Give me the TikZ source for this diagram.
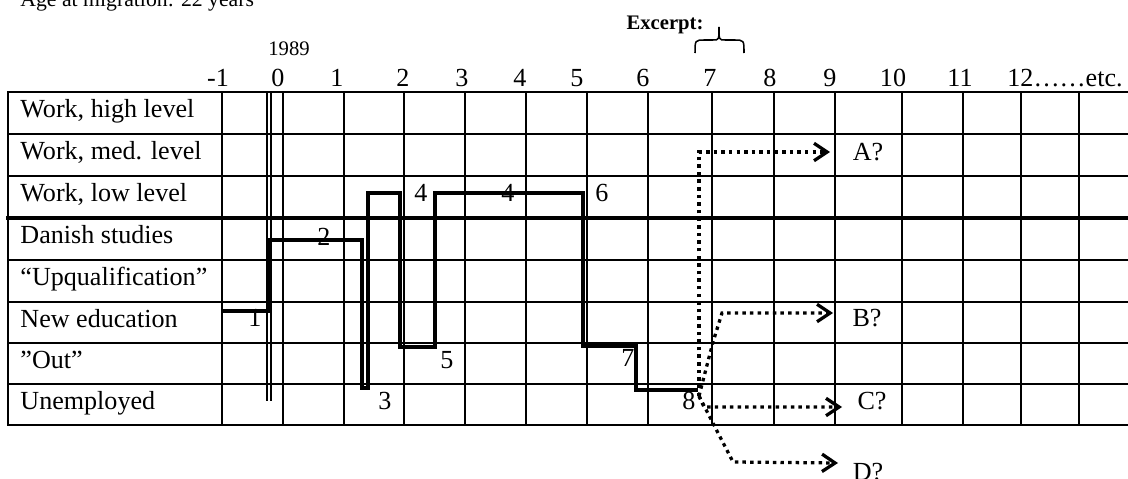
\documentclass[tikz,border=0pt]{standalone}
\usepackage{fontspec}
\setmainfont{Liberation Serif}
\usetikzlibrary{arrows.meta}

\begin{document}
\begin{tikzpicture}[x=0.46pt, y=-0.46pt,
    gridline/.style={line width=0.9pt, line cap=rect},
    divider/.style={line width=1.8pt, line cap=rect},
    route/.style={line width=1.4pt, line join=miter},
    maybe/.style={line width=1.5pt, dash pattern=on 1.6pt off 1.9pt,
        -{Straight Barb[length=6pt, width=8pt]}},
    txt/.style={inner sep=0pt, font=\fontsize{12}{14}\selectfont},
    small/.style={inner sep=0pt, font=\fontsize{9.5}{11}\selectfont}]
\useasboundingbox (0,0) rectangle (1128,479);

% title and marks above the table
\node[inner sep=0pt, font=\fontsize{10}{12}\selectfont, anchor=base west] (age) at (20,6) {Age at migration: 22 years};
\node[small, anchor=base] (year) at (289,55) {1989};
\node[small, anchor=base, font=\fontsize{9.5}{11}\selectfont\bfseries] (excerpt) at (665,29) {Excerpt:};
\draw[line width=0.7pt] 
    (695,53) .. controls (695,40) .. (705,40) -- (713,40) 
    .. controls (719,40) .. (719,27)  % tip over 7
    .. controls (719,40) .. (725,40) -- (734,40) 
    .. controls (744,40) .. (744,53);

% table
\foreach \y in {92,134,176,260,302,343,384,425}
    \draw[gridline] (8,\y) -- (1128,\y);
\draw[divider] (8,218) -- (1128,218);  % work / no work
\foreach \x in {8,222,283,344,404,465,526,587,648,712,774,835,902,963,1021,1079}
    \draw[gridline] (\x,92) -- (\x,425);
\draw[gridline, line width=1.1pt] (267,92) -- (267,400);  % 1989
\draw[gridline, line width=1.1pt] (271,92) -- (271,400);

% years
\foreach \x/\n [count=\i] in {218/-1,278/0,337/1,403/2,462/3,520/4,577/5,643/6,710/7,770/8,830/9,893/10,960/11}
    \node[txt, anchor=base] (yr\i) at (\x,86) {\n};
\node[txt, anchor=base west] (etc) at (1007,86) {12……etc.};

% rows
\foreach \y/\t [count=\i] in {92/{Work, high level},134/{Work, med. level},176/{Work, low level},218/{Danish studies},260/{“Upqualification”},302/{New education},343/{”Out”},384/{Unemployed}}
    \node[txt, anchor=base west] (row\i) at (20,{\y+25}) {\t};

% the course
\draw[route] 
    (222,311) -- (269,311) --  % 1
    (269,240) -- (362,240) --  % 2
    (362,388) -- (368,388) --  % 3
    (368,193) -- (400,193) --  % 4
    (400,347) -- (435,347) --  % 5
    (435,193) -- (583,193) --  % 4, 6
    (583,346) -- (636,346) --  % 7
    (636,390) -- (698,390);    % 8
\foreach \x/\y/\n [count=\i] in {255/318/1,324/237/2,385/401/3,421/193/4,508/193/4,447/360/5,602/193/6,628/358/7,689/401/8}
    \node[txt] (step\i) at (\x,\y) {\n};

% possible ways on
\coordinate (fork) at (699,396);
\coordinate (endA) at (830,152);
\coordinate (endB) at (833,313);
\coordinate (endC) at (842,407);
\coordinate (endD) at (838,463);
\draw[maybe] (fork) -- (699,152) -- (endA);
\draw[maybe] (fork) -- (713,342) -- (722,313) -- (endB);
\draw[maybe] (fork) -- (704,407) -- (endC);
\draw[maybe] (fork) -- (733,462) -- (endD);
\node[txt] (A) at (868,152) {A?};
\node[txt] (B) at (867,318) {B?};
\node[txt] (C) at (872,401) {C?};
\node[txt] (D) at (868,472) {D?};

\end{tikzpicture}
\end{document}
